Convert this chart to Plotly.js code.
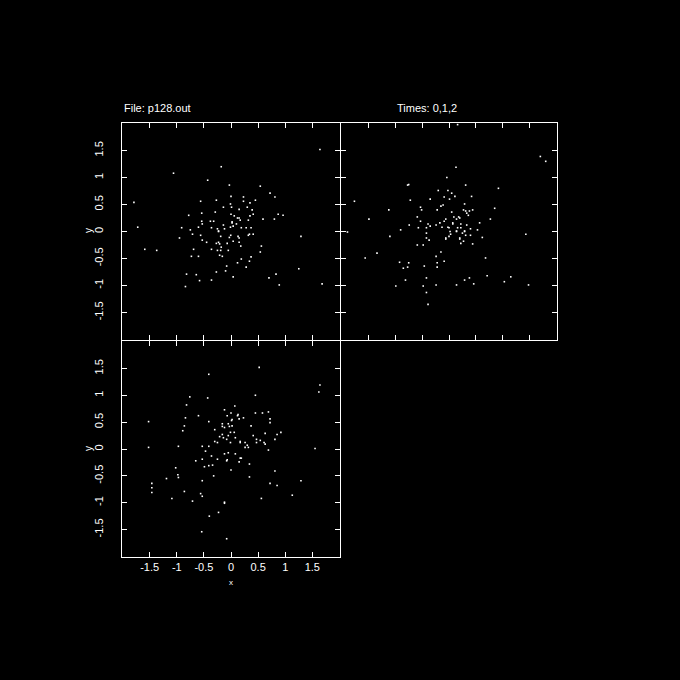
<!DOCTYPE html>
<html>
<head>
<meta charset="utf-8">
<script src="https://cdn.plot.ly/plotly-3.0.1.min.js"></script>
<style>html,body{margin:0;padding:0;background:#000;}#chart{width:680px;height:680px;}</style>
</head>
<body>
<div id="chart"></div>
<script>
// Time 0 (top-left panel)
const t0x = [-0.18,-1.06,-0.43,-0.03,-1.79,-0.56,-0.27,-0.01,-0.54,-0.14,-0.78,-0.29,0.00,-0.54,-0.38,-0.32,-0.53,-0.14,-1.72,-0.91,-0.60,-0.36,-0.25,-0.12,-0.01,-0.75,-0.23,
  1.64,0.54,0.72,0.81,0.00,0.23,0.23,0.45,0.35,0.30,0.01,0.15,0.39,0.41,0.87,0.96,0.06,0.35,0.12,0.15,0.17,0.59,0.80,0.32,0.02,0.02,0.04,0.10,0.19,0.28,0.37,
  -0.23,-0.71,-0.56,-0.95,-0.19,-0.03,-0.005,-0.53,-0.45,-0.27,-0.23,-0.21,-0.07,-0.18,-1.59,-1.37,-0.69,-0.36,-0.25,-0.19,-0.05,-0.73,-0.60,-0.21,-0.16,-0.08,-0.27,-0.10,-0.82,-0.64,-0.58,-0.36,-0.84,
  0.13,0.15,0.32,0.34,0.41,0.04,0.15,0.18,0.56,1.29,0.54,0.37,0.19,0.34,0.12,0.28,1.25,0.83,0.04,0.70,0.89,1.68];
const t0y = [1.20,1.08,0.95,0.86,0.54,0.56,0.58,0.51,0.34,0.45,0.30,0.36,0.32,0.19,0.19,0.19,0.14,0.12,0.08,0.07,0.08,0.07,0.05,0.05,0.08,0.03,0.01,
  1.52,0.84,0.71,0.64,0.65,0.64,0.56,0.58,0.53,0.45,0.45,0.41,0.40,0.32,0.32,0.30,0.29,0.29,0.25,0.25,0.21,0.23,0.23,0.21,0.18,0.16,0.10,0.14,0.07,0.07,0.07,
  0.00,-0.05,-0.07,-0.12,-0.09,-0.11,-0.07,-0.16,-0.20,-0.22,-0.20,-0.23,-0.22,-0.29,-0.33,-0.35,-0.33,-0.33,-0.35,-0.35,-0.35,-0.46,-0.46,-0.44,-0.46,-0.64,-0.75,-0.73,-0.79,-0.80,-0.91,-0.90,-1.02,
  -0.09,-0.12,-0.07,-0.05,-0.05,-0.18,-0.20,-0.27,-0.27,-0.09,-0.38,-0.47,-0.51,-0.55,-0.58,-0.66,-0.69,-0.79,-0.84,-0.86,-0.99,-0.97];

// Time 1 (top-right panel)
const t1x = [-0.04,-0.77,-0.75,-0.20,-0.02,-0.72,-0.35,-0.09,-1.76,-0.53,-0.51,-0.22,-0.15,-0.11,-1.12,-0.59,-0.06,-1.49,-0.53,-0.09,-0.39,-0.35,-0.24,-0.17,-0.74,-0.13,-0.57,-0.42,-0.02,0.00,-0.90,
  0.16,1.70,1.80,0.13,0.31,0.92,0.05,0.11,0.42,0.01,0.29,0.85,0.27,0.31,0.38,0.44,0.05,0.33,0.36,0.09,0.18,0.20,0.14,0.77,0.07,0.07,0.22,0.57,0.33,0.16,0.22,0.40,0.53,0.14,0.29,
  -1.89,-1.10,-0.42,-0.42,-0.37,-0.59,-0.48,-0.06,-0.06,0.00,-0.15,-0.24,-1.56,-1.34,-0.09,-0.22,-0.22,-0.92,-0.75,-0.85,-0.77,-0.46,-0.42,-0.81,-0.99,-0.48,-0.24,-0.42,-0.39,
  0.02,0.14,0.29,0.03,0.25,0.31,0.40,0.62,1.43,0.20,0.20,0.27,0.22,0.44,0.68,0.71,1.15,0.38,0.29,0.46,0.14,1.03,1.48];
const t1y = [1.00,0.86,0.87,0.76,0.76,0.58,0.60,0.64,0.56,0.45,0.40,0.40,0.47,0.49,0.40,0.27,0.23,0.23,0.19,0.19,0.14,0.10,0.12,0.16,0.12,0.08,0.07,0.07,0.08,0.07,0.03,
  1.98,1.39,1.30,1.19,0.86,0.80,0.71,0.65,0.65,0.60,0.51,0.43,0.40,0.38,0.38,0.40,0.36,0.34,0.30,0.27,0.27,0.25,0.23,0.23,0.16,0.14,0.14,0.16,0.12,0.07,0.07,0.05,0.03,0.01,0.01,
  -0.01,-0.09,-0.03,-0.12,-0.16,-0.25,-0.25,-0.12,-0.14,-0.09,-0.38,-0.46,-0.49,-0.40,-0.55,-0.58,-0.66,-0.57,-0.58,-0.68,-0.66,-0.64,-0.86,-0.90,-1.01,-1.01,-0.99,-1.13,-1.35,
  0.00,0.00,0.00,-0.05,-0.03,-0.07,-0.07,-0.11,-0.05,-0.12,-0.14,-0.18,-0.22,-0.23,-0.49,-0.82,-0.84,-0.86,-0.90,-0.97,-0.99,-0.93,-0.99];

// Time 2 (bottom-left panel)
const t2x = [-0.41,-0.76,-0.43,-0.82,-0.84,-0.60,-0.12,-0.07,-1.52,-0.41,-0.86,-0.16,-0.05,-0.16,-0.12,-0.03,-0.89,-0.30,-0.01,-0.16,-0.21,-0.14,-0.05,-0.08,-0.30,-0.25,-0.01,-1.52,-0.97,-0.53,-0.41,
  0.52,1.64,1.62,0.45,0.07,0.00,0.45,0.58,0.69,0.12,0.13,0.23,0.15,0.72,0.02,0.01,0.72,0.02,0.37,0.06,0.41,0.92,0.85,0.63,0.08,0.81,0.47,0.54,0.17,0.17,0.26,0.47,0.61,0.63,0.30,0.26,0.32,1.55,
  -0.47,-0.05,-0.12,-0.36,-0.53,-0.65,-0.25,-0.07,-0.08,-0.41,-0.49,-0.34,-1.02,-0.98,-0.97,-1.19,-0.32,-0.53,-1.46,-1.46,-1.46,-0.86,-0.56,-0.53,-1.09,-0.71,-0.12,-0.12,-0.23,-0.40,-0.54,-0.08,
  0.69,0.08,0.17,0.19,0.15,0.34,0.00,0.81,0.34,1.29,0.72,0.85,1.13,0.56];
const t2y = [1.39,0.97,0.95,0.82,0.58,0.62,0.73,0.62,0.51,0.51,0.43,0.47,0.47,0.42,0.40,0.42,0.34,0.36,0.31,0.27,0.23,0.21,0.25,0.18,0.14,0.12,0.12,0.03,0.05,0.05,0.05,
  1.52,1.19,1.06,1.00,0.80,0.67,0.67,0.67,0.69,0.62,0.64,0.58,0.56,0.56,0.55,0.53,0.49,0.43,0.43,0.31,0.25,0.31,0.27,0.29,0.21,0.18,0.18,0.16,0.14,0.12,0.12,0.12,0.12,0.09,0.07,0.03,0.03,0.01,
  -0.04,-0.07,-0.09,-0.13,-0.19,-0.22,-0.19,-0.20,-0.22,-0.31,-0.33,-0.30,-0.35,-0.48,-0.53,-0.55,-0.50,-0.59,-0.64,-0.72,-0.81,-0.79,-0.83,-0.88,-0.92,-0.97,-0.99,-1.01,-1.18,-1.25,-1.54,-1.67,
  -0.02,-0.09,-0.17,-0.17,-0.24,-0.28,-0.39,-0.41,-0.52,-0.59,-0.64,-0.68,-0.86,-0.92];

const tickVals = [-1.5,-1,-0.5,0,0.5,1,1.5];
const tickText = ['-1.5','-1','-0.5','0','0.5','1','1.5'];
const fileTitle = 'File: p128.out';
const timesTitle = 'Times: 0,1,2';

const FONT = 'Liberation Sans, Arial, sans-serif';
const marker = {color:'#ffffff', size:1.6, symbol:'square', line:{width:0}};
const traces = [
  {x:t0x, y:t0y, xaxis:'x', yaxis:'y', type:'scatter', mode:'markers', marker:marker, name:'t0'},
  {x:t1x, y:t1y, xaxis:'x2', yaxis:'y2', type:'scatter', mode:'markers', marker:marker, name:'t1'},
  {x:t2x, y:t2y, xaxis:'x3', yaxis:'y3', type:'scatter', mode:'markers', marker:marker, name:'t2'}
];

function ax(domain, anchor, showLabels, isY){
  const a = {
    domain:domain, anchor:anchor, range:[-2.01,2.01],
    showgrid:false, zeroline:false, showline:true, linecolor:'#ffffff', linewidth:1,
    mirror:'ticks', ticks:'inside', ticklen:5, tickwidth:1, tickcolor:'#ffffff',
    tickmode:'array', tickvals:tickVals, ticktext:tickText,
    showticklabels:showLabels,
    tickfont:{color:'#ffffff', size:11, family:FONT},
    fixedrange:true
  };
  if(isY){ a.tickangle = -90; a.ticklabelstandoff = 14; }
  return a;
}

// panels share borders: second column / row starts one pixel later so the lines coincide
const c1 = [122/680, 340/680], c2 = [341/680, 557/680];
const r1 = [1-340/680, 1-123/680], r2 = [1-557/680, 1-341/680];

const layout = {
  width:680, height:680,
  margin:{l:0, r:0, t:0, b:0},
  paper_bgcolor:'#000000', plot_bgcolor:'#000000',
  showlegend:false,
  xaxis: ax(c1,'y',false,false),
  yaxis: ax(r1,'x',true,true),
  xaxis2: ax(c2,'y2',false,false),
  yaxis2: ax(r1,'x2',false,true),
  xaxis3: ax(c1,'y3',true,false),
  yaxis3: ax(r2,'x3',true,true),
  annotations:[
    {text:fileTitle, xref:'paper', yref:'paper', x:122/680, y:1-108/680, xanchor:'left', yanchor:'middle', showarrow:false, font:{color:'#ffffff', size:11, family:FONT}},
    {text:timesTitle, xref:'paper', yref:'paper', x:427/680, y:1-108/680, xanchor:'center', yanchor:'middle', showarrow:false, font:{color:'#ffffff', size:11, family:FONT}},
    {text:'y', xref:'paper', yref:'paper', x:88/680, y:1-231/680, xanchor:'center', yanchor:'middle', textangle:-90, showarrow:false, font:{color:'#ffffff', size:10, family:FONT}},
    {text:'y', xref:'paper', yref:'paper', x:88/680, y:1-449/680, xanchor:'center', yanchor:'middle', textangle:-90, showarrow:false, font:{color:'#ffffff', size:10, family:FONT}},
    {text:'x', xref:'paper', yref:'paper', x:231/680, y:1-582/680, xanchor:'center', yanchor:'middle', showarrow:false, font:{color:'#ffffff', size:8, family:FONT}}
  ]
};

Plotly.newPlot('chart', traces, layout, {displayModeBar:false, staticPlot:true});
</script>
</body>
</html>
